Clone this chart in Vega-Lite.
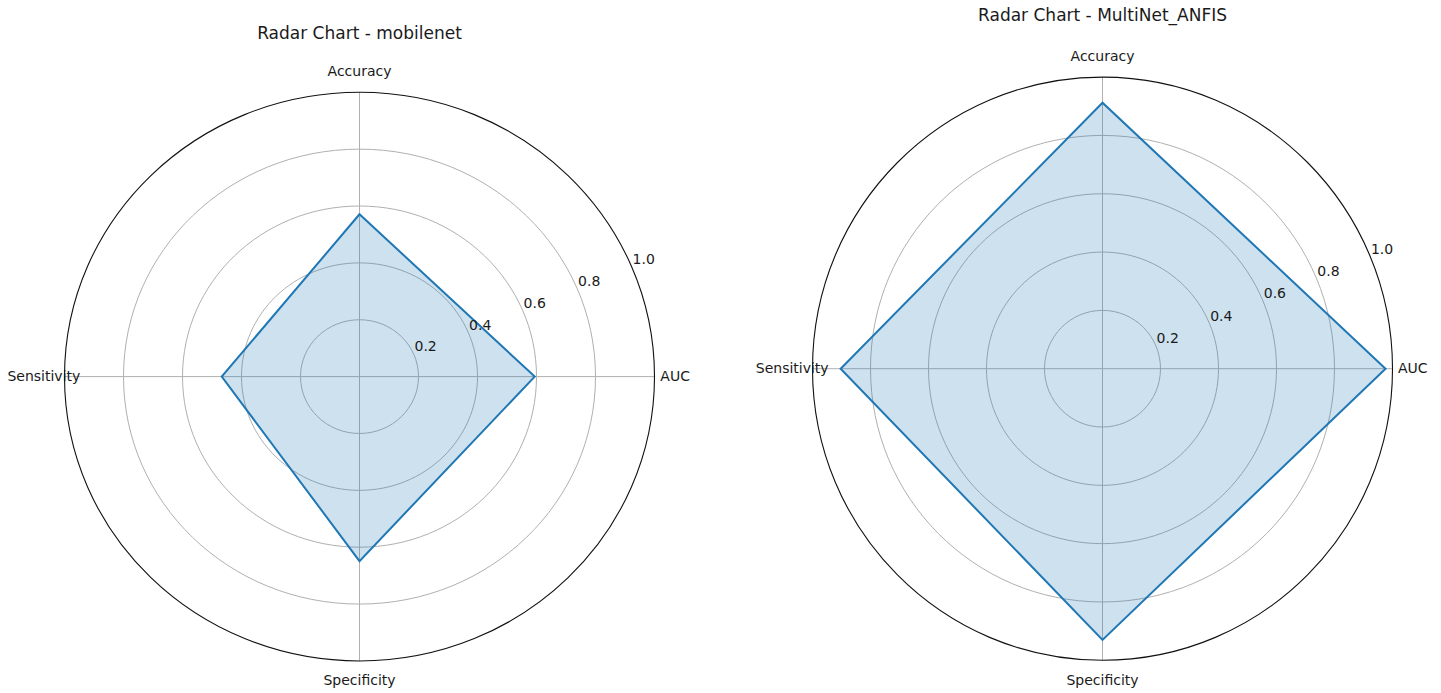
{
  "$schema": "https://vega.github.io/schema/vega-lite/v6.json",
  "background": "white",
  "padding": {"left": 6.5, "top": 6, "right": 5, "bottom": 5},
  "config": {
    "view": {"stroke": null},
    "font": "DejaVu Sans",
    "text": {"font": "DejaVu Sans"}
  },
  "datasets": {
    "mobilenet": [
      {"metric": "Accuracy", "value": 0.571},
      {"metric": "Sensitivity", "value": 0.467},
      {"metric": "Specificity", "value": 0.649},
      {"metric": "AUC", "value": 0.594}
    ],
    "multinet": [
      {"metric": "Accuracy", "value": 0.912},
      {"metric": "Sensitivity", "value": 0.903},
      {"metric": "Specificity", "value": 0.93},
      {"metric": "AUC", "value": 0.976}
    ],
    "rings": [
      {"r": 0.2}, {"r": 0.4}, {"r": 0.6}, {"r": 0.8}, {"r": 1.0}
    ]
  },
  "spacing": 158,
  "bounds": "flush",
  "resolve": {"scale": {"x": "independent", "y": "independent", "size": "independent"}},
  "hconcat": [
    {
      "width": 590,
      "height": 584,
      "title": {
        "text": "Radar Chart - mobilenet",
        "fontSize": 17,
        "fontWeight": "normal",
        "font": "DejaVu Sans",
        "color": "#1a1a1a",
        "anchor": "middle",
        "frame": "group",
        "baseline": "alphabetic",
        "offset": 9.7
      },
      "layer": [
        {
          "data": {"name": "rings"},
          "transform": [{"filter": "datum.r < 1"}],
          "mark": {"type": "point", "shape": "M -1 0 A 1 0.9638 0 1 0 1 0 A 1 0.9638 0 1 0 -1 0 Z", "filled": false, "stroke": "#b0b0b0", "strokeWidth": 1, "opacity": 1},
          "encoding": {
            "x": {"datum": 0, "type": "quantitative", "scale": {"domain": [-1, 1], "nice": false, "zero": false}, "axis": null},
            "y": {"datum": 0, "type": "quantitative", "scale": {"domain": [-1.0003, 1.0538], "nice": false, "zero": false}, "axis": null},
            "size": {"field": "r", "type": "quantitative", "scale": {"type": "pow", "exponent": 2, "domain": [0, 1], "range": [0, 348100]}, "legend": null}
          }
        },
        {
          "data": {"name": "mobilenet"},
          "transform": [
            {"calculate": "indexof(['Accuracy', 'Sensitivity', 'Specificity', 'AUC'], datum.metric)", "as": "k"},
            {"calculate": "PI / 2 + datum.k * PI / 2", "as": "theta"},
            {"calculate": "cos(datum.theta)", "as": "ux"},
            {"calculate": "sin(datum.theta)", "as": "uy"}
          ],
          "mark": {"type": "rule", "stroke": "#b0b0b0", "strokeWidth": 1},
          "encoding": {
            "x": {"field": "ux", "type": "quantitative"},
            "y": {"field": "uy", "type": "quantitative"},
            "x2": {"datum": 0},
            "y2": {"datum": 0}
          }
        },
        {
          "data": {"name": "rings"},
          "transform": [{"filter": "datum.r == 1"}],
          "mark": {"type": "point", "shape": "M -1 0 A 1 0.9638 0 1 0 1 0 A 1 0.9638 0 1 0 -1 0 Z", "filled": false, "stroke": "#111111", "strokeWidth": 1.1, "opacity": 1},
          "encoding": {
            "x": {"datum": 0, "type": "quantitative"},
            "y": {"datum": 0, "type": "quantitative"},
            "size": {"field": "r", "type": "quantitative", "legend": null}
          }
        },
        {
          "data": {"name": "mobilenet"},
          "transform": [
            {"calculate": "indexof(['Accuracy', 'Sensitivity', 'Specificity', 'AUC'], datum.metric)", "as": "k"},
            {"calculate": "PI / 2 + datum.k * PI / 2", "as": "theta"},
            {"calculate": "datum.value * cos(datum.theta)", "as": "px"},
            {"calculate": "datum.value * sin(datum.theta)", "as": "py"}
          ],
          "mark": {"type": "line", "interpolate": "linear-closed", "stroke": "#1f77b4", "strokeWidth": 2, "fill": "#1f77b4", "fillOpacity": 0.22},
          "encoding": {
            "x": {"field": "px", "type": "quantitative"},
            "y": {"field": "py", "type": "quantitative"},
            "order": {"field": "k", "type": "quantitative"}
          }
        },
        {
          "data": {"name": "rings"},
          "transform": [
            {"calculate": "datum.r * cos(PI / 8)", "as": "tx"},
            {"calculate": "datum.r * sin(PI / 8)", "as": "ty"}
          ],
          "mark": {"type": "text", "align": "left", "baseline": "alphabetic", "dx": 0.5, "dy": -3.5, "fontSize": 14, "color": "#1a1a1a"},
          "encoding": {
            "x": {"field": "tx", "type": "quantitative"},
            "y": {"field": "ty", "type": "quantitative"},
            "text": {"field": "r", "type": "quantitative", "format": ".1f"}
          }
        },
        {
          "data": {"name": "mobilenet"},
          "transform": [
            {"calculate": "indexof(['Accuracy', 'Sensitivity', 'Specificity', 'AUC'], datum.metric)", "as": "k"},
            {"calculate": "PI / 2 + datum.k * PI / 2", "as": "theta"},
            {"calculate": "1.07 * cos(datum.theta)", "as": "lx"},
            {"calculate": "1.07 * sin(datum.theta)", "as": "ly"}
          ],
          "mark": {"type": "text", "align": "center", "baseline": "middle", "fontSize": 14, "color": "#1a1a1a"},
          "encoding": {
            "x": {"field": "lx", "type": "quantitative"},
            "y": {"field": "ly", "type": "quantitative"},
            "text": {"field": "metric", "type": "nominal"}
          }
        }
      ]
    },
    {
      "width": 580,
      "height": 584,
      "title": {
        "text": "Radar Chart - MultiNet_ANFIS",
        "fontSize": 17,
        "fontWeight": "normal",
        "font": "DejaVu Sans",
        "color": "#1a1a1a",
        "anchor": "middle",
        "frame": "group",
        "baseline": "alphabetic",
        "offset": 11.7
      },
      "layer": [
        {
          "data": {"name": "rings"},
          "transform": [{"filter": "datum.r < 1"}],
          "mark": {"type": "point", "shape": "M -1 0 A 1 1.0055 0 1 0 1 0 A 1 1.0055 0 1 0 -1 0 Z", "filled": false, "stroke": "#b0b0b0", "strokeWidth": 1, "opacity": 1},
          "encoding": {
            "x": {"datum": 0, "type": "quantitative", "scale": {"domain": [-1, 1], "nice": false, "zero": false}, "axis": null},
            "y": {"datum": 0, "type": "quantitative", "scale": {"domain": [-1.0024, 1.0003], "nice": false, "zero": false}, "axis": null},
            "size": {"field": "r", "type": "quantitative", "scale": {"type": "pow", "exponent": 2, "domain": [0, 1], "range": [0, 336400]}, "legend": null}
          }
        },
        {
          "data": {"name": "multinet"},
          "transform": [
            {"calculate": "indexof(['Accuracy', 'Sensitivity', 'Specificity', 'AUC'], datum.metric)", "as": "k"},
            {"calculate": "PI / 2 + datum.k * PI / 2", "as": "theta"},
            {"calculate": "cos(datum.theta)", "as": "ux"},
            {"calculate": "sin(datum.theta)", "as": "uy"}
          ],
          "mark": {"type": "rule", "stroke": "#b0b0b0", "strokeWidth": 1},
          "encoding": {
            "x": {"field": "ux", "type": "quantitative"},
            "y": {"field": "uy", "type": "quantitative"},
            "x2": {"datum": 0},
            "y2": {"datum": 0}
          }
        },
        {
          "data": {"name": "rings"},
          "transform": [{"filter": "datum.r == 1"}],
          "mark": {"type": "point", "shape": "M -1 0 A 1 1.0055 0 1 0 1 0 A 1 1.0055 0 1 0 -1 0 Z", "filled": false, "stroke": "#111111", "strokeWidth": 1.1, "opacity": 1},
          "encoding": {
            "x": {"datum": 0, "type": "quantitative"},
            "y": {"datum": 0, "type": "quantitative"},
            "size": {"field": "r", "type": "quantitative", "legend": null}
          }
        },
        {
          "data": {"name": "multinet"},
          "transform": [
            {"calculate": "indexof(['Accuracy', 'Sensitivity', 'Specificity', 'AUC'], datum.metric)", "as": "k"},
            {"calculate": "PI / 2 + datum.k * PI / 2", "as": "theta"},
            {"calculate": "datum.value * cos(datum.theta)", "as": "px"},
            {"calculate": "datum.value * sin(datum.theta)", "as": "py"}
          ],
          "mark": {"type": "line", "interpolate": "linear-closed", "stroke": "#1f77b4", "strokeWidth": 2, "fill": "#1f77b4", "fillOpacity": 0.22},
          "encoding": {
            "x": {"field": "px", "type": "quantitative"},
            "y": {"field": "py", "type": "quantitative"},
            "order": {"field": "k", "type": "quantitative"}
          }
        },
        {
          "data": {"name": "rings"},
          "transform": [
            {"calculate": "datum.r * cos(PI / 8)", "as": "tx"},
            {"calculate": "datum.r * sin(PI / 8)", "as": "ty"}
          ],
          "mark": {"type": "text", "align": "left", "baseline": "alphabetic", "dx": 0.5, "dy": -3.5, "fontSize": 14, "color": "#1a1a1a"},
          "encoding": {
            "x": {"field": "tx", "type": "quantitative"},
            "y": {"field": "ty", "type": "quantitative"},
            "text": {"field": "r", "type": "quantitative", "format": ".1f"}
          }
        },
        {
          "data": {"name": "multinet"},
          "transform": [
            {"calculate": "indexof(['Accuracy', 'Sensitivity', 'Specificity', 'AUC'], datum.metric)", "as": "k"},
            {"calculate": "PI / 2 + datum.k * PI / 2", "as": "theta"},
            {"calculate": "1.07 * cos(datum.theta)", "as": "lx"},
            {"calculate": "1.07 * sin(datum.theta)", "as": "ly"}
          ],
          "mark": {"type": "text", "align": "center", "baseline": "middle", "fontSize": 14, "color": "#1a1a1a"},
          "encoding": {
            "x": {"field": "lx", "type": "quantitative"},
            "y": {"field": "ly", "type": "quantitative"},
            "text": {"field": "metric", "type": "nominal"}
          }
        }
      ]
    }
  ]
}
